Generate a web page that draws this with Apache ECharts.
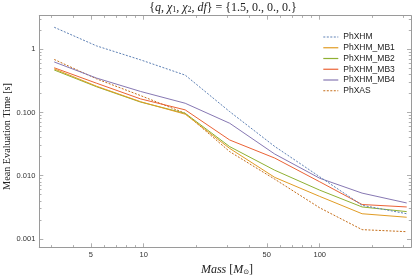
<!DOCTYPE html>
<html><head><meta charset="utf-8">
<script src="https://cdn.jsdelivr.net/npm/echarts@6/dist/echarts.min.js"></script>
<style>html,body{margin:0;padding:0;background:#fff}#c{width:415px;height:276px}</style>
</head><body><div id="c"></div>
<script>
const masses = [3.1, 5.4, 9.6, 17.2, 30.8, 55.5, 100, 174, 312];
const phxhm    = [2.23, 1.13, 0.68, 0.39, 0.103, 0.029, 0.0096, 0.0034, 0.0025];
const phxhmMB1 = [0.49, 0.26, 0.148, 0.094, 0.027, 0.0094, 0.0047, 0.0025, 0.0022];
const phxhmMB2 = [0.47, 0.255, 0.146, 0.097, 0.0288, 0.0122, 0.0059, 0.0032, 0.0027];
const phxhmMB3 = [0.51, 0.29, 0.164, 0.11, 0.0367, 0.019, 0.0080, 0.0035, 0.0032];
const phxhmMB4 = [0.63, 0.35, 0.215, 0.14, 0.0675, 0.022, 0.0091, 0.0053, 0.0037];
const phxas    = [0.69, 0.34, 0.185, 0.097, 0.024, 0.0088, 0.0031, 0.0014, 0.0013];
const seriesNames = ['PhXHM', 'PhXHM_MB1', 'PhXHM_MB2', 'PhXHM_MB3', 'PhXHM_MB4', 'PhXAS'];
const xMajor = [5, 10, 50, 100];
const xMinor = [3, 4, 6, 7, 8, 9, 20, 30, 40, 60, 70, 80, 90, 200, 300];
const yMajor = [0.001, 0.01, 0.1, 1];
const yMajorLabels = ['0.001', '0.010', '0.100', '1'];
const yMinor = [0.002,0.003,0.004,0.005,0.006,0.007,0.008,0.009,
                0.02,0.03,0.04,0.05,0.06,0.07,0.08,0.09,
                0.2,0.3,0.4,0.5,0.6,0.7,0.8,0.9,2,3];

const frame = '#9a9a9a';
const colors = ['#5E81B5', '#E19C24', '#8FB032', '#EB6235', '#8778B3', '#C56E1A'];
const dashes = [[2, 1.5], null, null, null, null, [2, 1.5]];
const allVals = [phxhm, phxhmMB1, phxhmMB2, phxhmMB3, phxhmMB4, phxas];

function xAx(pos, vals, len, labels, line) {
  return {
    type: 'log', logBase: 10, min: 2.55, max: 330, position: pos,
    axisLine: {show: line, lineStyle: {color: frame, width: 1}},
    axisTick: {show: true, inside: true, length: len, customValues: vals, lineStyle: {color: frame, width: 0.8}},
    axisLabel: labels ? {show: true, customValues: xMajor, formatter: v => String(Math.round(v)),
      color: '#333', fontSize: 7.5, fontFamily: 'Liberation Sans', margin: 4} : {show: false},
    splitLine: {show: false}, minorTick: {show: false}
  };
}
function yAx(pos, vals, len, labels, line) {
  return {
    type: 'log', logBase: 10, min: 0.000736, max: 3.4, position: pos,
    axisLine: {show: line, lineStyle: {color: frame, width: 1}},
    axisTick: {show: true, inside: true, length: len, customValues: vals, lineStyle: {color: frame, width: 0.8}},
    axisLabel: labels ? {show: true, customValues: yMajor, formatter: v => {
        let best = 0; yMajor.forEach((m, i) => { if (Math.abs(Math.log10(m) - Math.log10(v)) < Math.abs(Math.log10(yMajor[best]) - Math.log10(v))) best = i; });
        return yMajorLabels[best];
      }, color: '#333', fontSize: 7.5, fontFamily: 'Liberation Sans', margin: 4} : {show: false},
    splitLine: {show: false}, minorTick: {show: false}
  };
}

const chart = echarts.init(document.getElementById('c'), null, {renderer: 'canvas'});
chart.setOption({
  animation: false,
  backgroundColor: '#fff',
  grid: {left: 39.3, right: 4, top: 15.7, bottom: 28.7, containLabel: false},
  xAxis: [
    xAx('bottom', xMajor, 4, true, true),
    xAx('bottom', xMinor, 2.2, false, false),
    xAx('top', xMajor, 4, false, true),
    xAx('top', xMinor, 2.2, false, false)
  ],
  yAxis: [
    yAx('left', yMajor, 4, true, true),
    yAx('left', yMinor, 2.2, false, false),
    yAx('right', yMajor, 4, false, true),
    yAx('right', yMinor, 2.2, false, false)
  ],
  legend: {
    orient: 'vertical', left: 317.7, top: 27.5,
    itemWidth: 15, itemHeight: 10, itemGap: 1.75,
    itemStyle: {opacity: 0},
    textStyle: {fontSize: 8.5, fontFamily: 'Liberation Sans', color: '#222'},
    data: seriesNames.map((n, k) => ({
      name: n,
      lineStyle: {color: colors[k], width: 1.2, type: dashes[k] || 'solid', opacity: 1}
    }))
  },
  graphic: [
    {type: 'text', style: {x: 223, y: 7.5, align: 'center', verticalAlign: 'middle',
      text: '{' + '{i|q}, {i|χ}{s|1}, {i|χ}{s|2}, {i|df}} = {1.5, 0., 0., 0.}',
      fontFamily: 'Liberation Serif', fontSize: 12, fill: '#222',
      rich: {i: {fontStyle: 'italic', fontFamily: 'Liberation Serif', fontSize: 12, fill: '#222'},
             s: {fontFamily: 'Liberation Serif', fontSize: 8, padding: [5, 0, 0, 0], fill: '#222'}}}},
    {type: 'text', rotation: Math.PI / 2, x: 7.2, y: 136.5, style: {x: 0, y: 0, align: 'center', verticalAlign: 'middle',
      text: 'Mean Evaluation Time [s]', fontFamily: 'Liberation Serif', fontSize: 10.2, fill: '#222'}},
    {type: 'text', style: {x: 227, y: 269.5, align: 'center', verticalAlign: 'middle',
      text: '{i|Mass} [{i|M}{s|⊙}]', fontFamily: 'Liberation Serif', fontSize: 12, fill: '#222',
      rich: {i: {fontStyle: 'italic', fontFamily: 'Liberation Serif', fontSize: 12, fill: '#222'},
             s: {fontFamily: 'DejaVu Sans', fontSize: 7, padding: [5, 0, 0, 0], fill: '#222'}}}}
  ],
  series: seriesNames.map((n, k) => ({
    name: n, type: 'line', xAxisIndex: 0, yAxisIndex: 0,
    data: masses.map((m, i) => [m, allVals[k][i]]),
    symbol: 'none', showSymbol: false, z: 10 - k,
    color: colors[k],
    lineStyle: {color: colors[k], width: 1, type: dashes[k] || 'solid'}
  }))
});
</script></body></html>
